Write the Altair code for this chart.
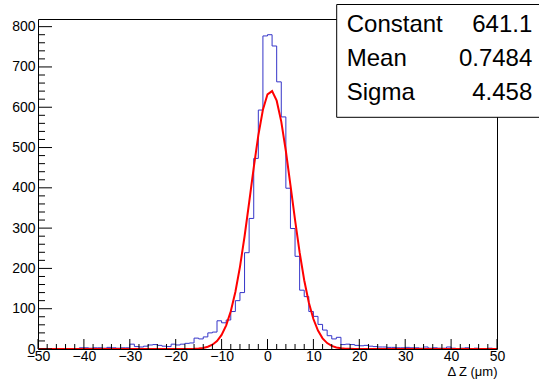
import altair as alt
import pandas as pd

# ---- data ----
bin_low = list(range(-50, 50))  # bins of width 1 from -50 to 50
counts = [
    0, 0, 0, 0, 0, 0, 0, 1, 0, 3,          # -50 .. -41
    3, 2, 3, 3, 2, 4, 3, 2, 3, 3,          # -40 .. -31
    12, 6, 5, 7, 10, 11, 9, 7, 6, 12,      # -30 .. -21
    10, 12, 14, 15, 27, 25, 30, 40, 42, 70,  # -20 .. -11
    65, 72, 93, 120, 140, 239, 324, 473, 593, 777,  # -10 .. -1
    780, 752, 663, 576, 399, 299, 230, 146, 130, 93,  # 0 .. 9
    81, 61, 47, 33, 25, 29, 11, 12, 11, 9,  # 10 .. 19
    8, 9, 7, 6, 5, 5, 4, 4, 3, 3,          # 20 .. 29
    4, 3, 3, 2, 5, 2, 3, 2, 2, 5,          # 30 .. 39
    2, 1, 2, 3, 1, 2, 1, 1, 2, 1,          # 40 .. 49
]

fit_x = [-50] + list(range(-20, 21)) + [50]
fit_y = [0.0,
         0.01, 0.03, 0.08, 0.22, 0.55, 1.25, 2.7, 5.5, 10.7, 19.9,
         35.0, 58.7, 93.5, 141.6, 203.9, 279.2, 363.6, 450.2, 530.1, 593.6,
         632.1,
         640.1, 616.3, 564.3, 491.4, 406.8, 320.3, 239.8, 170.7, 115.6, 74.4,
         45.6, 26.5, 14.7, 7.7, 3.9, 1.8, 0.83, 0.36, 0.14, 0.05,
         0.0]

stat_names = ["Constant", "Mean", "Sigma"]
stat_values = ["641.1", "0.7484", "4.458"]

x_major = list(range(-50, 51, 10))
x_minor = [v for v in range(-50, 51, 2) if v % 10 != 0]
y_major = list(range(0, 801, 100))
y_minor = [v for v in range(0, 820, 20) if v % 100 != 0]

# ---- chart ----
W, H = 459, 330
FONT = "Liberation Sans"
xs = alt.Scale(domain=[-50, 50], nice=False, zero=False)
ys = alt.Scale(domain=[0, 819], nice=False, zero=False)

hist_df = pd.DataFrame({"x": bin_low + [50], "y": counts + [counts[-1]]})
fit_df = pd.DataFrame({"x": fit_x, "y": fit_y})

x_axis = alt.Axis(values=x_major, ticks=False, domain=False, grid=False,
                  labelFont=FONT, labelFontSize=14, labelColor="black",
                  labelPadding=0, labelFlush=False,
                  labelExpr="datum.value < 0 ? '\u2212' + abs(datum.value) : datum.label",
                  title="Δ Z (μm)", titleFont=FONT, titleFontSize=13,
                  titleFontWeight="normal", titleColor="black",
                  titleX=W, titleY=26, titleAlign="right",
                  titleBaseline="alphabetic")
y_axis = alt.Axis(values=y_major, ticks=False, domain=False, grid=False,
                  labelFont=FONT, labelFontSize=14, labelColor="black",
                  labelPadding=3, labelFlush=False, title=None)

hist = alt.Chart(hist_df).mark_line(
    interpolate="step-after", color="#3535c8", strokeWidth=1, clip=True
).encode(
    x=alt.X("x:Q", scale=xs, axis=x_axis),
    y=alt.Y("y:Q", scale=ys, axis=y_axis),
)

fit = alt.Chart(fit_df).mark_line(color="#ff0000", strokeWidth=2, clip=True).encode(
    x=alt.X("x:Q", scale=xs),
    y=alt.Y("y:Q", scale=ys),
)

def xticks(vals, length):
    return alt.Chart(pd.DataFrame({"v": vals})).mark_rule(
        color="black", strokeWidth=1
    ).encode(x=alt.X("v:Q", scale=xs), y=alt.value(H), y2=alt.value(H - length))

def yticks(vals, length):
    return alt.Chart(pd.DataFrame({"v": vals})).mark_rule(
        color="black", strokeWidth=1
    ).encode(y=alt.Y("v:Q", scale=ys), x=alt.value(0), x2=alt.value(length))

one = pd.DataFrame({"a": [0]})
box = alt.Chart(one).mark_rect(
    fill="white", stroke="black", strokeWidth=1, clip=False
).encode(x=alt.value(298.7), x2=alt.value(503), y=alt.value(-14.5), y2=alt.value(98.3))

baselines = [12.7, 46.7, 80.7]
stat_layers = []
for name, val, b in zip(stat_names, stat_values, baselines):
    df = pd.DataFrame({"name": [name], "val": [val]})
    stat_layers.append(
        alt.Chart(df).mark_text(font=FONT, fontSize=24, align="left",
                                baseline="alphabetic", color="black")
        .encode(x=alt.value(308.7), y=alt.value(b), text="name:N"))
    stat_layers.append(
        alt.Chart(df).mark_text(font=FONT, fontSize=24, align="right",
                                baseline="alphabetic", color="black")
        .encode(x=alt.value(494.3), y=alt.value(b), text="val:N"))

chart = alt.layer(
    hist, fit,
    xticks(x_major, 10), xticks(x_minor, 5),
    yticks(y_major, 14), yticks(y_minor, 7),
    box, *stat_layers,
).properties(
    width=W, height=H,
    padding={"left": 38, "top": 19, "right": 42, "bottom": 30},
    autosize=alt.AutoSizeParams(type="none"),
    background="white",
).configure_view(stroke="black", strokeWidth=1)

chart.save("out.html", embed_options={"renderer": "svg", "actions": False})
